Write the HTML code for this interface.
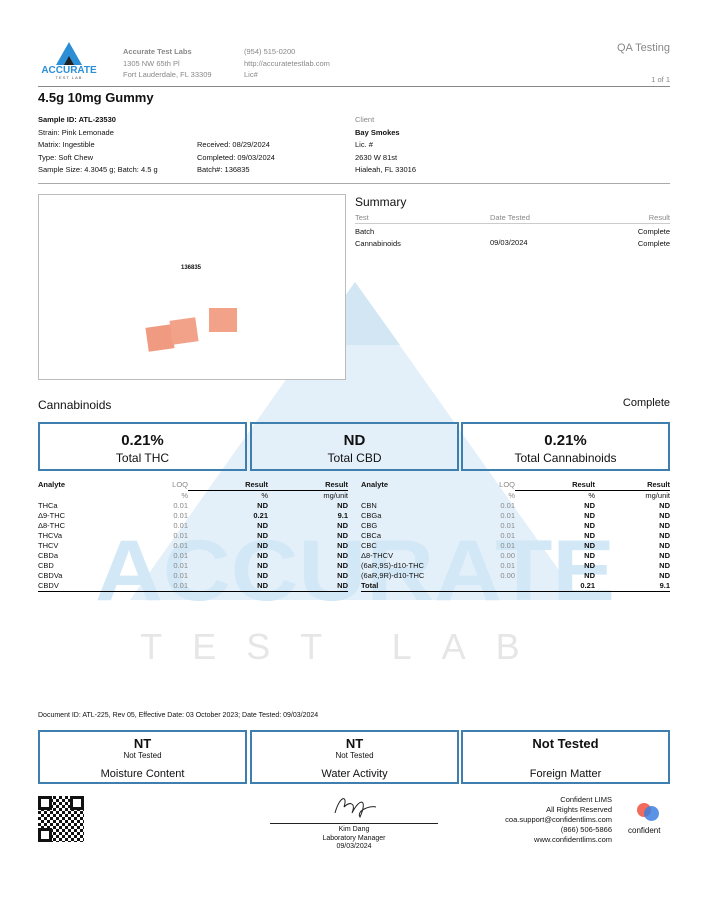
<!DOCTYPE html>
<html><head><meta charset="utf-8"><style>
*{margin:0;padding:0;box-sizing:border-box}
body{width:708px;height:921px;background:#fff;position:relative;font-family:"Liberation Sans",sans-serif;color:#111;overflow:hidden}
.a{position:absolute;white-space:nowrap}
.s{font-size:7.5px}
.g{color:#888}
.b{font-weight:bold}
.box{position:absolute;border:2px solid #3f7fb0;text-align:center}
table{border-collapse:collapse;font-size:7.5px;position:absolute}
td{height:10px;line-height:10px;padding:0}
.r{text-align:right}
</style></head><body>
<!-- watermark -->
<svg class="a" style="left:0;top:0" width="708" height="921">
<polygon points="355,282 130,600 580,600" fill="#e3f0f9"/>
<polygon points="355,282 310,345 400,345" fill="#d2e6f4"/>
<text x="355" y="600" text-anchor="middle" font-family="Liberation Sans" font-weight="bold" font-size="86" fill="#d3e8f6" textLength="520" lengthAdjust="spacingAndGlyphs">ACCURATE</text>
<text x="345" y="659" text-anchor="middle" font-family="Liberation Sans" font-size="36" fill="#e6e6e6" letter-spacing="30">TEST LAB</text>
</svg>
<!-- logo -->
<svg class="a" style="left:40px;top:40px" width="62" height="40">
<polygon points="29,2 16,25 42,25" fill="#2c8fd6"/>
<polygon points="29,16 24,25 34,25" fill="#222"/>
<text x="29" y="33" text-anchor="middle" font-size="10" font-weight="bold" fill="#2c8fd6" font-family="Liberation Sans">ACCURATE</text>
<text x="29" y="39" text-anchor="middle" font-size="4" fill="#555" font-family="Liberation Sans" letter-spacing="1">TEST LAB</text>
</svg>
<div class="a s g" style="left:123px;top:46px;line-height:11.5px"><span class="b">Accurate Test Labs</span><br>1305 NW 65th Pl<br>Fort Lauderdale, FL 33309</div>
<div class="a s g" style="left:244px;top:46px;line-height:11.5px">(954) 515-0200<br>http://accuratetestlab.com<br>Lic#</div>
<div class="a g" style="right:38px;top:42px;font-size:11px">QA Testing</div>
<div class="a s g" style="right:38px;top:75px">1 of 1</div>
<div class="a" style="left:38px;top:86px;width:632px;border-top:1px solid #888"></div>
<div class="a b" style="left:38px;top:90px;font-size:13px">4.5g 10mg Gummy</div>
<div class="a s" style="left:38px;top:114px;line-height:12.5px"><b>Sample ID: ATL-23530</b><br>Strain: Pink Lemonade<br>Matrix: Ingestible<br>Type: Soft Chew<br>Sample Size: 4.3045 g; Batch: 4.5 g</div>
<div class="a s" style="left:197px;top:139px;line-height:12.5px">Received: 08/29/2024<br>Completed: 09/03/2024<br>Batch#: 136835</div>
<div class="a s" style="left:355px;top:114px;line-height:12.5px"><span class="g">Client</span><br><b>Bay Smokes</b><br>Lic. #<br>2630 W 81st<br>Hialeah, FL 33016</div>
<div class="a" style="left:38px;top:183px;width:632px;border-top:1px solid #aaa"></div>
<!-- photo -->
<div class="a" style="left:38px;top:194px;width:308px;height:186px;border:1px solid #bbb;background:#fff"></div>
<div class="a" style="left:181px;top:265px;font-size:6px;font-weight:bold">136835</div>
<div class="a" style="left:147px;top:326px;width:26px;height:24px;background:#f09a82;transform:rotate(-8deg)"></div>
<div class="a" style="left:171px;top:319px;width:26px;height:24px;background:#f3a28a;transform:rotate(-8deg)"></div>
<div class="a" style="left:209px;top:308px;width:28px;height:24px;background:#f3a28a"></div>
<!-- summary -->
<div class="a" style="left:355px;top:195px;font-size:12px">Summary</div>
<div class="a s g" style="left:355px;top:213px">Test</div><div class="a s g" style="left:490px;top:213px">Date Tested</div><div class="a s g" style="right:38px;top:213px">Result</div>
<div class="a" style="left:355px;top:223px;width:315px;border-top:1px solid #ccc"></div>
<div class="a s" style="left:355px;top:226px;line-height:12px">Batch<br>Cannabinoids</div>
<div class="a s" style="left:490px;top:238px">09/03/2024</div>
<div class="a s r" style="right:38px;top:226px;line-height:12px">Complete<br>Complete</div>
<div class="a" style="left:38px;top:398px;font-size:12px">Cannabinoids</div>
<div class="a" style="right:38px;top:397px;font-size:11px">Complete</div>
<div class="box" style="left:38px;top:422px;width:209px;height:49px"><div class="b" style="font-size:15px;margin-top:8px">0.21%</div><div style="font-size:12px;margin-top:2px">Total THC</div></div>
<div class="box" style="left:250px;top:422px;width:209px;height:49px"><div class="b" style="font-size:15px;margin-top:8px">ND</div><div style="font-size:12px;margin-top:2px">Total CBD</div></div>
<div class="box" style="left:461px;top:422px;width:209px;height:49px"><div class="b" style="font-size:15px;margin-top:8px">0.21%</div><div style="font-size:12px;margin-top:2px">Total Cannabinoids</div></div>
<table style="left:38px;top:480px;width:310px">
<tr class="b"><td>Analyte</td><td class="r g" style="font-weight:normal;width:60px">LOQ</td><td class="r" style="width:80px;border-bottom:1px solid #000">Result</td><td class="r" style="width:80px;border-bottom:1px solid #000">Result</td></tr>
<tr><td></td><td class="r g">%</td><td class="r">%</td><td class="r">mg/unit</td></tr>
<tr><td>THCa</td><td class="r g">0.01</td><td class="r b">ND</td><td class="r b">ND</td></tr>
<tr><td>Δ9-THC</td><td class="r g">0.01</td><td class="r b">0.21</td><td class="r b">9.1</td></tr>
<tr><td>Δ8-THC</td><td class="r g">0.01</td><td class="r b">ND</td><td class="r b">ND</td></tr>
<tr><td>THCVa</td><td class="r g">0.01</td><td class="r b">ND</td><td class="r b">ND</td></tr>
<tr><td>THCV</td><td class="r g">0.01</td><td class="r b">ND</td><td class="r b">ND</td></tr>
<tr><td>CBDa</td><td class="r g">0.01</td><td class="r b">ND</td><td class="r b">ND</td></tr>
<tr><td>CBD</td><td class="r g">0.01</td><td class="r b">ND</td><td class="r b">ND</td></tr>
<tr><td>CBDVa</td><td class="r g">0.01</td><td class="r b">ND</td><td class="r b">ND</td></tr>
<tr style="border-bottom:1px solid #000"><td>CBDV</td><td class="r g">0.01</td><td class="r b">ND</td><td class="r b">ND</td></tr>
</table>
<table style="left:361px;top:480px;width:309px">
<tr class="b"><td>Analyte</td><td class="r g" style="font-weight:normal;width:50px">LOQ</td><td class="r" style="width:80px;border-bottom:1px solid #000">Result</td><td class="r" style="width:75px;border-bottom:1px solid #000">Result</td></tr>
<tr><td></td><td class="r g">%</td><td class="r">%</td><td class="r">mg/unit</td></tr>
<tr><td>CBN</td><td class="r g">0.01</td><td class="r b">ND</td><td class="r b">ND</td></tr>
<tr><td>CBGa</td><td class="r g">0.01</td><td class="r b">ND</td><td class="r b">ND</td></tr>
<tr><td>CBG</td><td class="r g">0.01</td><td class="r b">ND</td><td class="r b">ND</td></tr>
<tr><td>CBCa</td><td class="r g">0.01</td><td class="r b">ND</td><td class="r b">ND</td></tr>
<tr><td>CBC</td><td class="r g">0.01</td><td class="r b">ND</td><td class="r b">ND</td></tr>
<tr><td>Δ8-THCV</td><td class="r g">0.00</td><td class="r b">ND</td><td class="r b">ND</td></tr>
<tr><td>(6aR,9S)-d10-THC</td><td class="r g">0.01</td><td class="r b">ND</td><td class="r b">ND</td></tr>
<tr><td>(6aR,9R)-d10-THC</td><td class="r g">0.00</td><td class="r b">ND</td><td class="r b">ND</td></tr>
<tr style="border-bottom:1px solid #000" class="b"><td>Total</td><td></td><td class="r">0.21</td><td class="r">9.1</td></tr>
</table>
<div class="a" style="left:38px;top:712px;font-size:7px">Document ID: ATL-225, Rev 05, Effective Date: 03 October 2023; Date Tested: 09/03/2024</div>
<div class="box" style="left:38px;top:730px;width:209px;height:54px"><div class="b" style="font-size:13px;margin-top:4px">NT</div><div style="font-size:8px">Not Tested</div><div style="font-size:11px;margin-top:8px">Moisture Content</div></div>
<div class="box" style="left:250px;top:730px;width:209px;height:54px"><div class="b" style="font-size:13px;margin-top:4px">NT</div><div style="font-size:8px">Not Tested</div><div style="font-size:11px;margin-top:8px">Water Activity</div></div>
<div class="box" style="left:461px;top:730px;width:209px;height:54px"><div class="b" style="font-size:13px;margin-top:4px">Not Tested</div><div style="font-size:11px;margin-top:17px">Foreign Matter</div></div>
<!-- QR -->
<div class="a" style="left:38px;top:796px;width:46px;height:46px;background:repeating-conic-gradient(#111 0 25%,#fff 0 50%) 0 0/6px 6px"></div>
<div class="a" style="left:38px;top:796px;width:14px;height:14px;border:3px solid #111;background:#fff"></div>
<div class="a" style="left:70px;top:796px;width:14px;height:14px;border:3px solid #111;background:#fff"></div>
<div class="a" style="left:38px;top:828px;width:14px;height:14px;border:3px solid #111;background:#fff"></div>
<svg class="a" style="left:330px;top:793px" width="50" height="28"><path d="M5,20 C10,2 18,2 14,14 C20,8 26,10 22,20 C30,4 38,6 30,24 C26,18 40,12 46,14" stroke="#222" fill="none" stroke-width="1"/></svg>
<div class="a" style="left:270px;top:823px;width:168px;border-top:1px solid #222"></div>
<div class="a" style="left:270px;top:826px;width:168px;text-align:center;font-size:7px;line-height:8.5px">Kim Dang<br>Laboratory Manager<br>09/03/2024</div>
<div class="a s r" style="right:96px;top:795px;line-height:10px">Confident LIMS<br>All Rights Reserved<br>coa.support@confidentlims.com<br>(866) 506-5866<br>www.confidentlims.com</div>
<div class="a" style="left:637px;top:803px;width:14px;height:14px;border-radius:50%;background:#f26b5b"></div>
<div class="a" style="left:644px;top:806px;width:15px;height:15px;border-radius:50%;background:#3d7fe0;opacity:.85"></div>
<div class="a" style="left:628px;top:826px;font-size:8px">confident</div>
</body></html>
